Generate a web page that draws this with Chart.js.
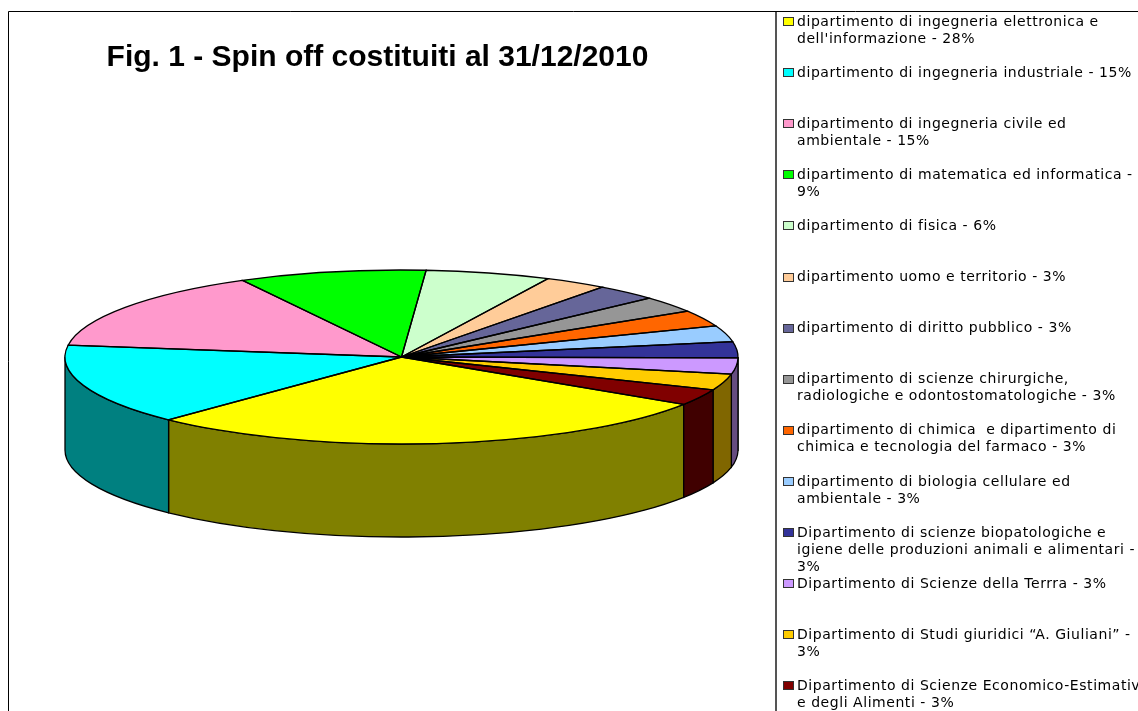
<!DOCTYPE html>
<html lang="it">
<head>
<meta charset="utf-8">
<title>Fig. 1 - Spin off costituiti al 31/12/2010</title>
<style>html,body{margin:0;padding:0;background:#fff}canvas{display:block}</style>
<script src="https://cdn.jsdelivr.net/npm/chart.js@4/dist/chart.umd.min.js"></script>
</head>
<body>
<canvas id="c" width="1138" height="711"></canvas>
<script>
const titleText = "Fig. 1 - Spin off costituiti al 31/12/2010";
const categories = [
  ["dipartimento di ingegneria elettronica e", "dell'informazione - 28%"],
  ["dipartimento di ingegneria industriale - 15%"],
  ["dipartimento di ingegneria civile ed", "ambientale - 15%"],
  ["dipartimento di matematica ed informatica -", "9%"],
  ["dipartimento di fisica - 6%"],
  ["dipartimento uomo e territorio - 3%"],
  ["dipartimento di diritto pubblico - 3%"],
  ["dipartimento di scienze chirurgiche,", "radiologiche e odontostomatologiche - 3%"],
  ["dipartimento di chimica  e dipartimento di", "chimica e tecnologia del farmaco - 3%"],
  ["dipartimento di biologia cellulare ed", "ambientale - 3%"],
  ["Dipartimento di scienze biopatologiche e", "igiene delle produzioni animali e alimentari -", "3%"],
  ["Dipartimento di Scienze della Terrra - 3%"],
  ["Dipartimento di Studi giuridici “A. Giuliani” -", "3%"],
  ["Dipartimento di Scienze Economico-Estimative", "e degli Alimenti - 3%"]
];
const values = [28, 15, 15, 9, 6, 3, 3, 3, 3, 3, 3, 3, 3, 3];
const topColors = ["#FFFF00","#00FFFF","#FF99CC","#00FF00","#CCFFCC","#FFCC99","#666699","#969696","#FF6600","#99CCFF","#333399","#CC99FF","#FFCC00","#800000"];
const sideColors = ["#808000","#008080","#804C66","#008000","#668066","#806650","#33334C","#4B4B4B","#803300","#4C6680","#1A1A4C","#664C80","#806600","#400000"];

// Layout of the drawing (not data)
const pie3d = { cx: 401.5, cy: 357, rx: 336.5, ry: 87, depth: 93, startDeg: 123 };
const legendBox = { swatchX: 783, swatchW: 10, swatchH: 8, textX: 797, firstY: 21, pitch: 51.1, lineH: 17, textDy: 1, font: '14px "DejaVu Sans"', spacing: '0.55px' };
const EDGE = 1.3;
const TWO_PI = Math.PI * 2;

function withEllipse(ctx, arc, dy, fn) {
  ctx.save();
  ctx.translate(pie3d.cx, pie3d.cy + dy);
  ctx.scale(pie3d.rx / arc.outerRadius, pie3d.ry / arc.outerRadius);
  fn();
  ctx.restore();
}

const pie3dPlugin = {
  id: 'pie3d',
  beforeDatasetsDraw(chart) {
    const ctx = chart.ctx, arcs = chart.getDatasetMeta(0).data;
    arcs.forEach((arc, i) => {
      const r = arc.outerRadius;
      for (const shift of [0, -TWO_PI, TWO_PI]) {
        const a = Math.max(arc.startAngle + shift, 0), b = Math.min(arc.endAngle + shift, Math.PI);
        if (b <= a) continue;
        ctx.beginPath();
        withEllipse(ctx, arc, 0, () => ctx.arc(0, 0, r, a, b));
        withEllipse(ctx, arc, pie3d.depth, () => ctx.arc(0, 0, r, b, a, true));
        ctx.closePath();
        ctx.fillStyle = sideColors[i];
        ctx.fill();
        ctx.lineWidth = EDGE;
        ctx.strokeStyle = '#000';
        ctx.stroke();
      }
    });
    const a0 = arcs[0];
    ctx.save();
    ctx.translate(pie3d.cx, pie3d.cy);
    ctx.scale(pie3d.rx / a0.outerRadius, pie3d.ry / a0.outerRadius);
    ctx.translate(-a0.x, -a0.y);
  },
  afterDatasetsDraw(chart) {
    const ctx = chart.ctx, arcs = chart.getDatasetMeta(0).data;
    ctx.restore();
    arcs.forEach(arc => {
      ctx.beginPath();
      withEllipse(ctx, arc, 0, () => {
        ctx.moveTo(0, 0);
        ctx.arc(0, 0, arc.outerRadius, arc.startAngle, arc.endAngle);
        ctx.closePath();
      });
      ctx.lineWidth = EDGE;
      ctx.strokeStyle = '#000';
      ctx.stroke();
    });
  }
};

const framePlugin = {
  id: 'frame',
  afterLayout(chart) {
    const t = chart.titleBlock;
    t.left = 10; t.right = 745; t.top = 40; t.bottom = 70;
  },
  beforeDraw(chart) {
    const ctx = chart.ctx;
    ctx.save();
    ctx.strokeStyle = '#000';
    ctx.lineWidth = 1;
    ctx.beginPath();
    ctx.moveTo(8.5, 711); ctx.lineTo(8.5, 11.5); ctx.lineTo(1138, 11.5);
    ctx.stroke();
    ctx.strokeStyle = '#555';
    ctx.lineWidth = 2;
    ctx.beginPath();
    ctx.moveTo(776, 12); ctx.lineTo(776, 711);
    ctx.stroke();
    ctx.restore();
  },
  afterDraw(chart) {
    const ctx = chart.ctx, L = legendBox;
    ctx.save();
    ctx.font = L.font;
    ctx.letterSpacing = L.spacing;
    ctx.textBaseline = 'middle';
    ctx.textAlign = 'left';
    chart.data.labels.forEach((lines, i) => {
      const y = L.firstY + i * L.pitch;
      ctx.fillStyle = topColors[i];
      ctx.strokeStyle = '#333';
      ctx.lineWidth = 1;
      ctx.fillRect(L.swatchX + .5, Math.round(y - 4) + .5, L.swatchW, L.swatchH);
      ctx.strokeRect(L.swatchX + .5, Math.round(y - 4) + .5, L.swatchW, L.swatchH);
      ctx.fillStyle = '#000';
      lines.forEach((s, k) => ctx.fillText(s, L.textX, y + L.textDy + k * L.lineH));
    });
    ctx.restore();
  }
};

new Chart(document.getElementById('c'), {
  type: 'pie',
  data: {
    labels: categories,
    datasets: [{ data: values, backgroundColor: topColors, borderWidth: 0, hoverOffset: 0 }]
  },
  options: {
    responsive: false,
    animation: false,
    events: [],
    rotation: pie3d.startDeg,
    layout: { padding: { left: 65, right: 400, top: 1, bottom: 1 } },
    plugins: {
      legend: { display: false },
      tooltip: { enabled: false },
      title: {
        display: true,
        text: titleText,
        color: '#000',
        padding: 0,
        font: { family: '"Liberation Sans", Arial, sans-serif', size: 30, weight: 'bold' }
      }
    }
  },
  plugins: [pie3dPlugin, framePlugin]
});
</script>
</body>
</html>
